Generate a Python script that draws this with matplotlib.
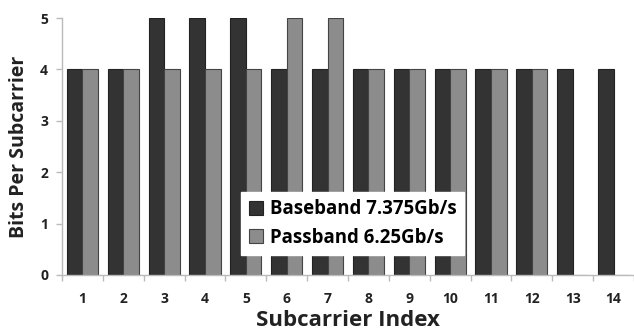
import numpy as np
import matplotlib
matplotlib.use("Agg")
import matplotlib.pyplot as plt

# bits per subcarrier
subcarriers = [str(i) for i in range(1, 15)]
baseband = [4, 4, 5, 5, 5, 4, 4, 4, 4, 4, 4, 4, 4, 4]
passband = [4, 4, 4, 4, 4, 5, 5, 4, 4, 4, 4, 4, 0, 0]
yticks = [0, 1, 2, 3, 4, 5]

plt.rcParams['font.family'] = ['Open Sans', 'DejaVu Sans']
plt.rcParams['font.weight'] = 'bold'

fig = plt.figure(figsize=(6.34, 3.36), dpi=100)
ax = fig.add_axes([62 / 634, 61 / 336, 572 / 634, 257 / 336])

x = np.arange(len(subcarriers))
w = 0.38
ax.bar(x - w / 2, baseband, w, color='#333333', edgecolor='#222222', linewidth=0.8,
       label='Baseband 7.375Gb/s', zorder=2)
ax.bar(x + w / 2, passband, w, color='#8c8c8c', edgecolor='#444444', linewidth=0.8,
       label='Passband 6.25Gb/s', zorder=2)

ax.set_xlim(-0.5, len(subcarriers) - 0.5)
ax.set_ylim(0, 5)
ax.set_yticks(yticks)
ax.set_yticklabels([str(v) for v in yticks], fontsize=10, fontweight='bold', color='#222222')
ax.set_xticks(x)
ax.set_xticklabels(subcarriers, fontsize=10, fontweight='bold', color='#222222')
ax.tick_params(axis='x', length=0, pad=12)
ax.set_xticks(np.arange(len(subcarriers) + 1) - 0.5, minor=True)
ax.tick_params(axis='x', which='minor', length=4, color='#bbbbbb', width=1)
ax.tick_params(axis='y', length=4, color='#bbbbbb', width=1, pad=6)

for s in ['top', 'right']:
    ax.spines[s].set_visible(False)
for s in ['left', 'bottom']:
    ax.spines[s].set_color('#bbbbbb')
    ax.spines[s].set_linewidth(1)

ax.set_xlabel('Subcarrier Index', fontsize=16, fontweight='bold', color='#222222', labelpad=3)
ax.set_ylabel('Bits Per Subcarrier', fontsize=14, fontweight='bold', color='#222222', labelpad=8)

leg = ax.legend(loc='upper left', bbox_to_anchor=(0.297, 0.36), frameon=True, fancybox=False,
                framealpha=1, edgecolor='white', prop={'weight': 'bold', 'size': 13.4},
                handlelength=0.75, handleheight=0.75, handletextpad=0.4, labelspacing=0.45,
                borderpad=0.4)
leg.set_zorder(5)

fig.savefig('out.png', dpi=100)
